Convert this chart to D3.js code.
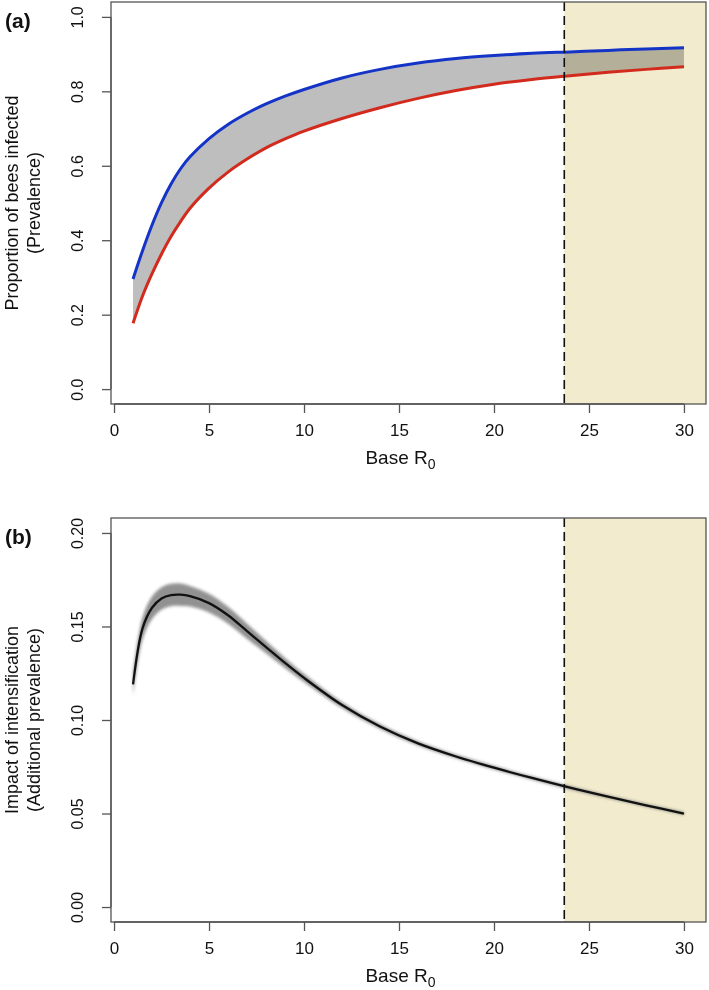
<!DOCTYPE html>
<html><head><meta charset="utf-8">
<script src="https://cdn.jsdelivr.net/npm/d3@7"></script>
<style>body{margin:0;background:#fff}svg{display:block}text{font-family:"Liberation Sans",Arial,sans-serif;fill:#111}</style>
</head><body>
<script>
// ---- data ----
const R0 = [1,1.5,2,2.5,3,3.5,4,5,6,7,8,9,10,12,14,16,18,20,22,24,26,28,30];
const prevHigh = [0.296,0.372,0.441,0.501,0.551,0.592,0.624,0.673,0.711,0.741,0.766,0.787,0.805,0.836,0.859,0.876,0.888,0.896,0.902,0.906,0.910,0.914,0.917];
const prevLow  = [0.177,0.250,0.310,0.363,0.410,0.450,0.486,0.540,0.583,0.618,0.648,0.672,0.693,0.727,0.756,0.781,0.802,0.819,0.832,0.842,0.851,0.859,0.866];
const impact   = [0.119,0.149,0.160,0.165,0.1668,0.1670,0.1662,0.1625,0.156,0.1475,0.139,0.1305,0.1225,0.108,0.0965,0.0875,0.0805,0.0745,0.069,0.0638,0.059,0.0544,0.050];
const impactSd = [0.006,0.006,0.006,0.006,0.006,0.006,0.0055,0.005,0.0045,0.004,0.0033,0.0027,0.0022,0.0016,0.0013,0.0011,0.001,0.001,0.0009,0.0009,0.0008,0.0008,0.0008];
const thresholdR0 = 23.7;
const xTicks = [0,5,10,15,20,25,30];
const yTicksA = [0,0.2,0.4,0.6,0.8,1.0];
const yTicksB = [0,0.05,0.10,0.15,0.20];
const labelsA = {tag:"(a)", y1:"Proportion of bees infected", y2:"(Prevalence)"};
const labelsB = {tag:"(b)", y1:"Impact of intensification", y2:"(Additional prevalence)"};

const W=709,H=990;
const svg=d3.select("body").append("svg").attr("width",W).attr("height",H);
const defs=svg.append("defs");
defs.append("filter").attr("id","blur").attr("x","-5%").attr("y","-20%").attr("width","110%").attr("height","140%")
  .append("feGaussianBlur").attr("stdDeviation",1.6);

const L=111,Rr=706;
const x=d3.scaleLinear().domain([-0.16,31.16]).range([L,Rr]);
const curve=d3.curveCatmullRom.alpha(0.5);

function panel(top,bottom,ydom,yTicks,fmt,labels,drawFn){
  const y=d3.scaleLinear().domain(ydom).range([bottom,top]);
  const g=svg.append("g");
  g.append("rect").attr("x",x(thresholdR0)).attr("y",top).attr("width",Rr-x(thresholdR0)).attr("height",bottom-top).attr("fill","#f2ebcd");
  drawFn(g,y);
  g.append("line").attr("x1",x(thresholdR0)).attr("x2",x(thresholdR0)).attr("y1",top).attr("y2",bottom)
    .attr("stroke","#111").attr("stroke-width",1.6).attr("stroke-dasharray","9,5");
  g.append("rect").attr("x",L).attr("y",top).attr("width",Rr-L).attr("height",bottom-top).attr("fill","none").attr("stroke","#555").attr("stroke-width",1.3);
  const xa=g.append("g").attr("transform",`translate(0,${bottom})`)
    .call(d3.axisBottom(x).tickValues(xTicks).tickSize(9).tickSizeOuter(0).tickFormat(d3.format("d")));
  xa.select(".domain").attr("d",`M${x(0)},0H${x(30)}`).attr("stroke","#555").attr("stroke-width",1.3);
  xa.selectAll(".tick line").attr("stroke","#555").attr("stroke-width",1.3);
  xa.selectAll(".tick text").attr("y",32).attr("dy",0).attr("font-size",17).attr("fill","#111");
  const t=g.append("text").attr("x",(L+Rr)/2-8).attr("y",bottom+60).attr("text-anchor","middle").attr("font-size",19);
  t.append("tspan").text("Base R");
  t.append("tspan").attr("dy",5).attr("font-size",14).text("0");
  const ya=g.append("g").attr("transform",`translate(${L},0)`)
    .call(d3.axisLeft(y).tickValues(yTicks).tickSize(9).tickSizeOuter(0).tickFormat(fmt));
  ya.select(".domain").attr("d",`M0,${y(yTicks[0])}V${y(yTicks[yTicks.length-1])}`).attr("stroke","#555").attr("stroke-width",1.3);
  ya.selectAll(".tick line").attr("stroke","#555").attr("stroke-width",1.3);
  ya.selectAll(".tick text").attr("x",null).attr("dy",null).attr("text-anchor","middle").attr("font-size",16).attr("fill","#111")
    .attr("transform","translate(-28,0) rotate(-90)");
  const cy=(top+bottom)/2;
  g.append("text").attr("transform",`translate(18,${cy}) rotate(-90)`).attr("text-anchor","middle").attr("font-size",18).text(labels.y1);
  g.append("text").attr("transform",`translate(40,${cy}) rotate(-90)`).attr("text-anchor","middle").attr("font-size",18).text(labels.y2);
  g.append("text").attr("x",5).attr("y",top+26).attr("font-size",21).attr("font-weight","bold").text(labels.tag);
}

const pts=R0.map((r,i)=>({r,hi:prevHigh[i],lo:prevLow[i],m:impact[i],sd:impactSd[i]}));

panel(2,404,[-0.04,1.04],yTicksA,d3.format(".1f"),labelsA,(g,y)=>{
  g.append("path").datum(pts).attr("fill","#bebebe").style("mix-blend-mode","multiply")
    .attr("d",d3.area().curve(curve).x(d=>x(d.r)).y0(d=>y(d.lo)).y1(d=>y(d.hi)));
  g.append("path").datum(pts).attr("fill","none").attr("stroke","#d22a1c").attr("stroke-width",3)
    .attr("d",d3.line().curve(curve).x(d=>x(d.r)).y(d=>y(d.lo)));
  g.append("path").datum(pts).attr("fill","none").attr("stroke","#1434c8").attr("stroke-width",3)
    .attr("d",d3.line().curve(curve).x(d=>x(d.r)).y(d=>y(d.hi)));
});

panel(518,922,[-0.008,0.208],yTicksB,d3.format(".2f"),labelsB,(g,y)=>{
  g.append("path").datum(pts).attr("fill","#6e6e6e").attr("fill-opacity",0.75).attr("filter","url(#blur)")
    .attr("d",d3.area().curve(curve).x(d=>x(d.r)).y0(d=>y(d.m-d.sd)).y1(d=>y(d.m+d.sd)));
  g.append("path").datum(pts).attr("fill","none").attr("stroke","#111").attr("stroke-width",2.3)
    .attr("d",d3.line().curve(curve).x(d=>x(d.r)).y(d=>y(d.m)));
});
</script>
</body></html>
